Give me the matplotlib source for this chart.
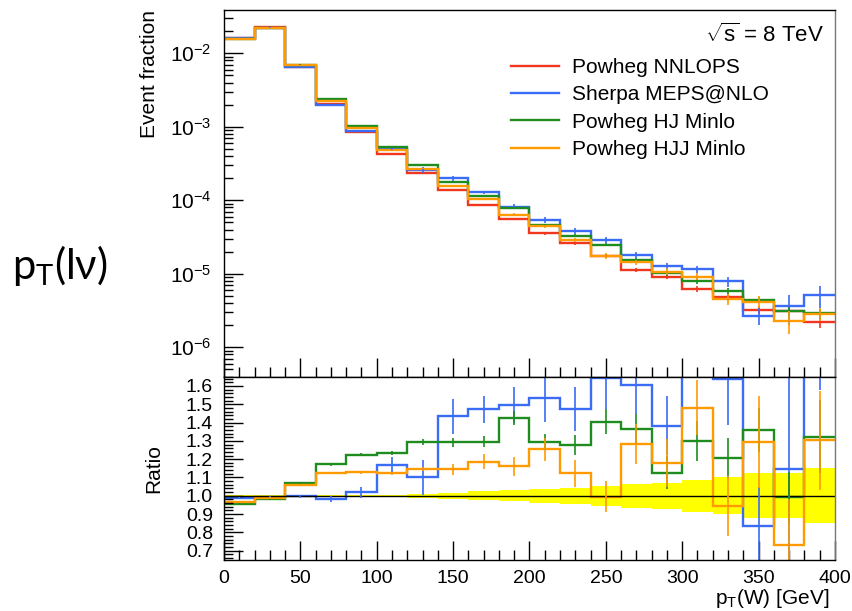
import numpy as np
import matplotlib
matplotlib.use("Agg")
import matplotlib.pyplot as plt
from matplotlib.lines import Line2D
from matplotlib.ticker import MultipleLocator, LogLocator, LogFormatterMathtext, NullFormatter

plt.rcParams['font.family'] = ['Liberation Sans', 'DejaVu Sans']
plt.rcParams['mathtext.fontset'] = 'custom'
plt.rcParams['mathtext.rm'] = 'Liberation Sans'
plt.rcParams['mathtext.it'] = 'Liberation Sans:italic'
plt.rcParams['mathtext.default'] = 'regular'

# binning pT(W) [GeV]
edges = np.arange(0, 401, 20)

# Powheg NNLOPS (referencja), event fraction
nnlops = [1.62e-2, 2.25e-2, 6.55e-3, 2.02e-3, 8.5e-4, 4.3e-4, 2.35e-4, 1.38e-4,
          8.7e-5, 5.5e-5, 3.55e-5, 2.6e-5, 1.77e-5, 1.12e-5, 9.1e-6, 6.2e-6,
          4.8e-6, 3.23e-6, 3.15e-6, 2.18e-6]
# wzgledna niepewnosc referencji (zolte pasmo)
nnlops_err = [0.002, 0.002, 0.003, 0.004, 0.005, 0.007, 0.01, 0.018, 0.025, 0.03,
              0.038, 0.043, 0.053, 0.065, 0.072, 0.089, 0.1, 0.122, 0.122, 0.15]

# stosunki do NNLOPS
ratio_sherpa = [0.99, 0.995, 0.998, 0.982, 1.02, 1.169, 1.10, 1.435, 1.471, 1.495,
                1.533, 1.473, 1.645, 1.605, 1.382, 1.87, 1.638, 0.836, 1.147, 2.33]
ratio_hj = [0.958, 0.98, 1.071, 1.171, 1.224, 1.235, 1.295, 1.293, 1.296, 1.425,
            1.295, 1.276, 1.405, 1.364, 1.127, 1.298, 1.204, 1.358, 0.991, 1.322]
ratio_hjj = [0.965, 0.99, 1.06, 1.124, 1.129, 1.122, 1.145, 1.144, 1.187, 1.16,
             1.253, 1.122, 0.995, 1.284, 1.18, 1.48, 0.945, 1.295, 0.733, 1.302]

err_sherpa = [0.004, 0.005, 0.008, 0.018, 0.03, 0.044, 0.095, 0.095, 0.075, 0.1,
              0.13, 0.12, 0.17, 0.16, 0.16, 0.2, 0.25, 0.21, 0.5, 0.75]
err_hj = [0.003, 0.004, 0.005, 0.006, 0.008, 0.01, 0.015, 0.024, 0.03, 0.04,
          0.045, 0.055, 0.07, 0.08, 0.09, 0.11, 0.11, 0.12, 0.14, 0.2]
err_hjj = [0.003, 0.004, 0.005, 0.006, 0.008, 0.01, 0.012, 0.03, 0.043, 0.05,
           0.065, 0.075, 0.085, 0.11, 0.13, 0.15, 0.165, 0.25, 0.25, 0.27]

labels = ["Powheg NNLOPS", "Sherpa MEPS@NLO", "Powheg HJ Minlo", "Powheg HJJ Minlo"]
colors = ["#f0371e", "#3a6cf5", "#1e8c1e", "#ff9a00"]

centers = 0.5 * (edges[1:] + edges[:-1])
ref = np.array(nnlops)
ratios = [np.array(ratio_sherpa), np.array(ratio_hj), np.array(ratio_hjj)]
rerrs = [np.array(err_sherpa), np.array(err_hj), np.array(err_hjj)]

fig = plt.figure(figsize=(8.52, 6.11), dpi=100)
ax1 = fig.add_axes([0.2629, 0.3835, 0.7171, 0.6001])
ax2 = fig.add_axes([0.2629, 0.0835, 0.7171, 0.3000])

# gorny panel
lw = 1.7
ax1.stairs(ref, edges, baseline=None, color=colors[0], lw=lw)
ax1.errorbar(centers, ref, yerr=ref * np.array(nnlops_err), fmt='none',
             ecolor=colors[0], elinewidth=1.2)
for r, e, c in zip(ratios, rerrs, colors[1:]):
    ax1.stairs(ref * r, edges, baseline=None, color=c, lw=lw)
    ax1.errorbar(centers, ref * r, yerr=ref * e, fmt='none', ecolor=c, elinewidth=1.2)

ax1.set_yscale('log')
ax1.set_xlim(0, 400)
ax1.set_ylim(3.98e-7, 3.88e-2)
ax1.yaxis.set_major_locator(LogLocator(base=10, numticks=10))
ax1.yaxis.set_minor_locator(LogLocator(base=10, subs=np.arange(2, 10), numticks=100))
ax1.yaxis.set_major_formatter(LogFormatterMathtext())
ax1.yaxis.set_minor_formatter(NullFormatter())
ax1.set_xticklabels([])
ax1.set_ylabel("Event fraction", fontsize=15, loc='top', labelpad=8)

ax1.legend(handles=[Line2D([], [], color=c, lw=1.7) for c in colors], labels=labels,
           loc='upper left', bbox_to_anchor=(0.47, 0.869), frameon=False, fontsize=15,
           borderpad=0, handlelength=2.3, handletextpad=0.6, labelspacing=0.4,
           borderaxespad=0)
ax1.text(0.982, 0.93, r'$\sqrt{\mathrm{s}}$ = 8 TeV', transform=ax1.transAxes,
         ha='right', va='center', fontsize=16)

# dolny panel (stosunek)
band = np.array(nnlops_err)
ax2.stairs(1 + band, edges, baseline=1 - band, fill=True, color='#ffff00', lw=0)
ax2.axhline(1.0, color='black', lw=1.0)
for r, e, c in zip(ratios, rerrs, colors[1:]):
    ax2.stairs(r, edges, baseline=None, color=c, lw=lw)
    ax2.errorbar(centers, r, yerr=e, fmt='none', ecolor=c, elinewidth=1.2)

ax2.set_xlim(0, 400)
ax2.set_ylim(0.65, 1.65)
ax2.yaxis.set_major_locator(MultipleLocator(0.1))
ax2.yaxis.set_minor_locator(MultipleLocator(0.02))
ax2.yaxis.set_major_formatter(plt.FuncFormatter(lambda v, p: f"{v:.1f}" if 0.69 < v < 1.61 else ""))
ax2.set_ylabel("Ratio", fontsize=15, labelpad=16)

for ax in (ax1, ax2):
    ax.xaxis.set_major_locator(MultipleLocator(50))
    ax.xaxis.set_minor_locator(MultipleLocator(10))
    ax.tick_params(which='both', direction='in', top=False, right=False, color='black')
    ax.tick_params(axis='x', which='major', length=14, width=1.0, labelsize=14, pad=7)
    ax.tick_params(axis='x', which='minor', length=7, width=1.0)
    ax.tick_params(axis='y', which='major', length=14, width=1.0)
    ax.tick_params(axis='y', which='minor', length=6.5, width=1.0)
    for s in ax.spines.values():
        s.set_linewidth(1.0)
    ax.spines['right'].set_color('#777777')
ax1.tick_params(axis='y', labelsize=15, pad=9)
ax2.tick_params(axis='y', labelsize=14, pad=8)

fig.text(830 / 852, 1 / 611, r'p$_\mathregular{T}$(W) [GeV]', ha='right', va='bottom', fontsize=15)

fig.text(12 / 852, 1 - 266 / 611, r'p$_\mathregular{T}$(lν)', ha='left', va='center',
         fontsize=30, family=['Lato', 'DejaVu Sans'])

fig.savefig("out.png", dpi=100)
